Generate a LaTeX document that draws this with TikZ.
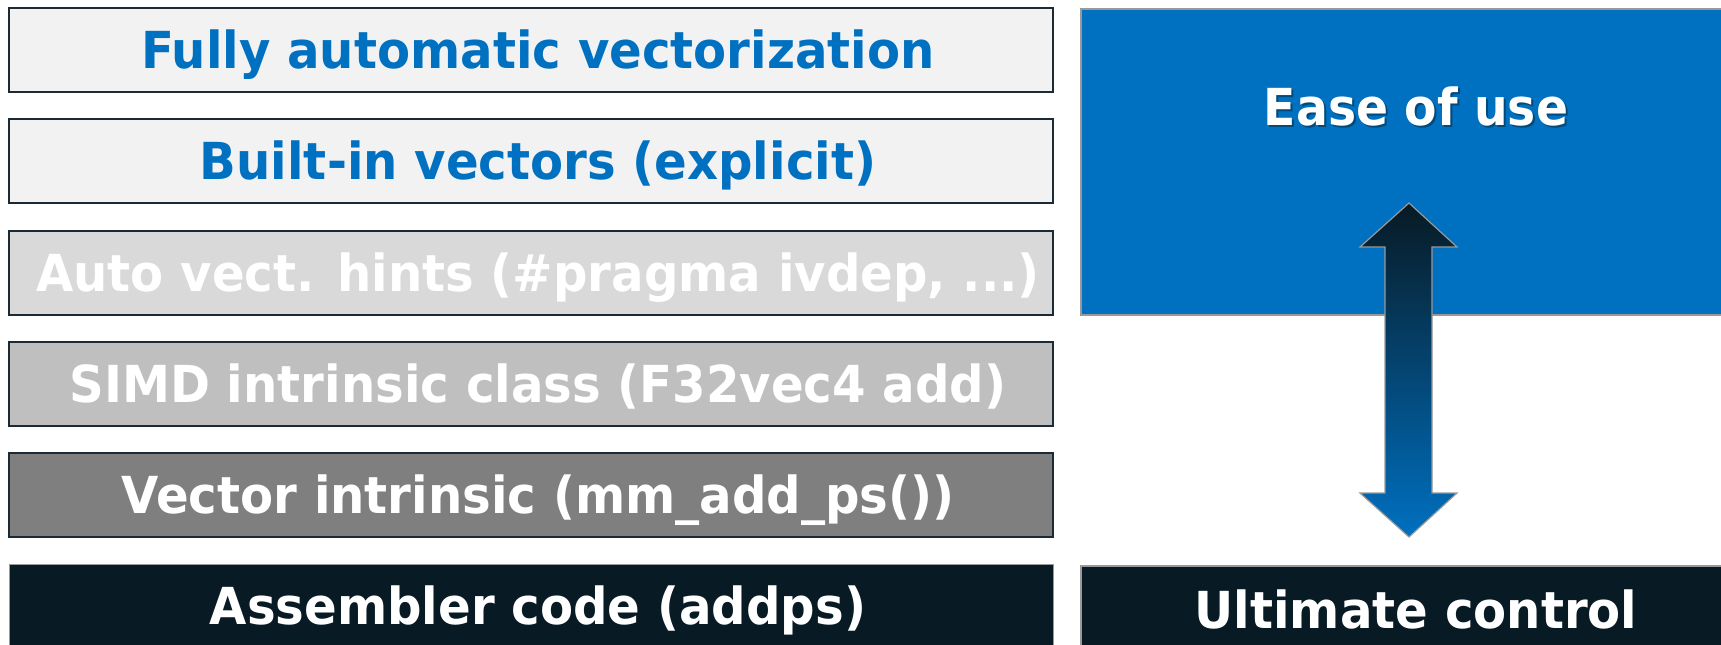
\documentclass[tikz,border=0pt]{standalone}
\usepackage{fontspec}
\setmainfont{DejaVu Sans}[FakeStretch=0.945]
\newfontfamily\condfont{DejaVu Sans Condensed}[FakeStretch=1.03]
\definecolor{intelblue}{HTML}{0070C0}
\definecolor{edgedark}{HTML}{1B2A35}
\definecolor{navy}{HTML}{081A24}
\definecolor{framegray}{HTML}{999999}
\definecolor{tierA}{HTML}{F2F2F2}
\definecolor{tierB}{HTML}{D9D9D9}
\definecolor{tierC}{HTML}{BFBFBF}
\definecolor{tierD}{HTML}{7F7F7F}
\begin{document}
\begin{tikzpicture}[x=1pt,y=-1pt,
  layer/.style={draw=edgedark, line width=1.5pt, minimum width=1044pt, minimum height=84pt,
    inner sep=0pt},
  layertext/.style={inner sep=0pt, text height=37pt, text depth=0pt,
    font=\fontsize{51}{51}\selectfont\bfseries},
  panel/.style={draw=framegray, line width=1.2pt, inner sep=0pt},
  bigtext/.style={text=white, font=\fontsize{51}{51}\selectfont\bfseries},
  easetext/.style={font=\condfont\fontsize{51}{51}\selectfont\bfseries, anchor=base}
]
\useasboundingbox (0,0) rectangle (1721,645);

% stacked programming layers
\node[layer, fill=tierA] (l1) at (531,50)  {};
\node[layer, fill=tierA] (l2) at (531,161) {};
\node[layer, fill=tierB] (l3) at (531,273) {};
\node[layer, fill=tierC] (l4) at (531,384) {};
\node[layer, fill=tierD] (l5) at (531,495) {};
\node[layer, fill=navy, draw=framegray, line width=1pt] (l6) at (531,606) {};

\node[layertext, text=intelblue] (t1) at ([xshift=7pt]l1.center) {Fully automatic vectorization};
\node[layertext, text=intelblue] (t2) at ([xshift=7pt]l2.center) {Built-in vectors (explicit)};
\node[layertext, text=white]     (t3) at ([xshift=7pt]l3.center) {Auto vect. hints (\#pragma ivdep, ...)};
\node[layertext, text=white]     (t4) at ([xshift=7pt]l4.center) {SIMD intrinsic class (F32vec4 add)};
\node[layertext, text=white]     (t5) at ([xshift=7pt]l5.center) {Vector intrinsic (mm\_add\_ps())};
\node[layertext, text=white]     (t6) at ([xshift=7pt]l6.center) {Assembler code (addps)};

% right-hand panels
\draw[panel, fill=intelblue] (1081,9) rectangle (1740,315);
\draw[panel, fill=navy] (1081,566) rectangle (1740,660);
\node[bigtext, anchor=base] (ctl) at (1416,628) {Ultimate control};

% title of the upper panel with a soft shadow
\node[easetext, text=navy, opacity=0.45] at (1418,127) {Ease of use};
\node[easetext, text=white] (ease) at (1416,125) {Ease of use};

% double-headed arrow between the panels
\shadedraw[top color=navy, bottom color=intelblue, draw=framegray, line width=1.2pt]
  (1409,203) -- (1457,247) -- (1432,247) -- (1432,493) -- (1457,493)
  -- (1409,537) -- (1360,493) -- (1385,493) -- (1385,247) -- (1360,247) -- cycle;
\end{tikzpicture}
\end{document}
